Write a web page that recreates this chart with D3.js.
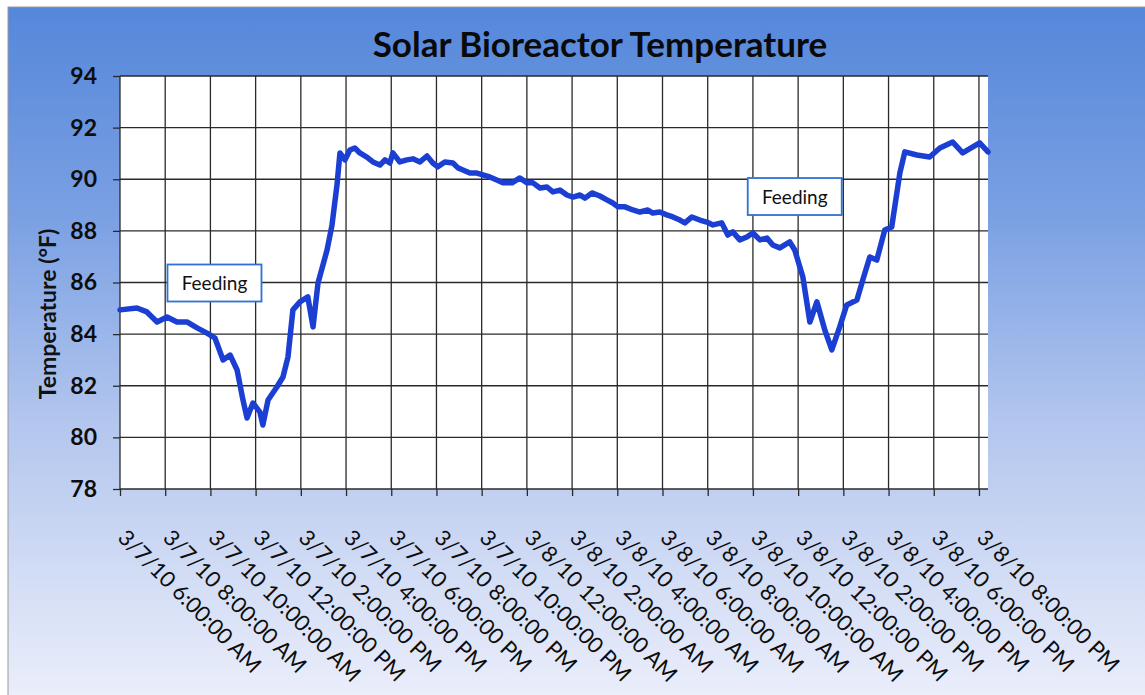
<!DOCTYPE html>
<html lang="en">
<head>
    <meta charset="UTF-8">
    <title>Solar Bioreactor Temperature</title>
    <script src="https://d3js.org/d3.v7.min.js"></script>
    <style>
        body { margin: 0; background: #fff; font-family: Lato, "Open Sans", sans-serif; }
        svg { display: block; }
        .grid line { stroke: #2a2a2a; stroke-width: 1.3; }
        .axis line { stroke: #2a2a2a; stroke-width: 1.3; }
        .axis text { fill: #0d0d0d; }
    </style>
</head>
<body>
    <svg width="1145" height="695"></svg>

    <script>
        const width = 1145, height = 695;
        const margin = { top: 76, right: 157, bottom: 206, left: 120 };

        // time axis: hours after 3/7/10 6:00 AM
        const start = new Date(2010, 2, 7, 6, 0, 0);
        const endHours = 38.4;

        const hours = [
            0.00, 0.75, 1.19, 1.64, 2.08, 2.52, 2.96, 3.41, 3.85, 4.20,
            4.56, 4.87, 5.18, 5.44, 5.62, 5.88, 6.19, 6.32, 6.55, 6.94,
            7.21, 7.43, 7.65, 7.96, 8.31, 8.54, 8.76, 9.16, 9.38, 9.60,
            9.73, 9.95, 10.17, 10.39, 10.61, 10.92, 11.19, 11.50, 11.72, 11.94,
            12.07, 12.38, 12.69, 12.96, 13.27, 13.58, 13.84, 14.06, 14.37, 14.73,
            14.95, 15.17, 15.48, 15.79, 16.05, 16.36, 16.67, 16.94, 17.34, 17.69,
            18.00, 18.27, 18.58, 18.89, 19.15, 19.46, 19.77, 20.04, 20.35, 20.57,
            20.88, 21.23, 21.54, 21.80, 22.03, 22.34, 22.69, 23.00, 23.35, 23.57,
            23.88, 24.19, 24.46, 24.77, 24.99, 25.30, 25.65, 25.96, 26.23, 26.62,
            26.89, 27.11, 27.42, 27.73, 28.00, 28.31, 28.62, 28.88, 29.19, 29.63,
            29.85, 30.21, 30.52, 30.83, 31.18, 31.49, 31.84, 32.15, 32.60, 32.86,
            33.17, 33.48, 33.83, 34.14, 34.50, 34.72, 35.25, 35.82, 36.27, 36.84,
            37.28, 38.03, 38.40
        ];
        const temps = [
            84.94, 85.01, 84.86, 84.47, 84.66, 84.47, 84.47, 84.24, 84.04, 83.85,
            83.00, 83.19, 82.61, 81.45, 80.75, 81.33, 80.98, 80.48, 81.45, 81.95,
            82.34, 83.11, 84.94, 85.25, 85.44, 84.28, 85.98, 87.26, 88.23, 89.78,
            91.02, 90.75, 91.13, 91.21, 91.02, 90.86, 90.67, 90.55, 90.75, 90.63,
            91.02, 90.67, 90.75, 90.79, 90.67, 90.90, 90.63, 90.48, 90.67, 90.63,
            90.44, 90.36, 90.24, 90.24, 90.17, 90.09, 89.97, 89.86, 89.86, 90.05,
            89.86, 89.86, 89.66, 89.70, 89.51, 89.58, 89.39, 89.31, 89.39, 89.27,
            89.47, 89.35, 89.20, 89.08, 88.93, 88.93, 88.81, 88.73, 88.81, 88.69,
            88.73, 88.62, 88.54, 88.42, 88.31, 88.54, 88.42, 88.34, 88.23, 88.31,
            87.84, 87.96, 87.65, 87.76, 87.92, 87.65, 87.72, 87.45, 87.34, 87.57,
            87.26, 86.21, 84.47, 85.25, 84.16, 83.39, 84.28, 85.13, 85.32, 86.10,
            86.99, 86.87, 88.03, 88.15, 90.24, 91.06, 90.94, 90.86, 91.21, 91.44,
            91.02, 91.41, 91.06
        ];

        const yTicks = [78, 80, 82, 84, 86, 88, 90, 92, 94];
        const xTickLabels = [
            "3/7/10 6:00:00 AM", "3/7/10 8:00:00 AM", "3/7/10 10:00:00 AM", "3/7/10 12:00:00 PM",
            "3/7/10 2:00:00 PM", "3/7/10 4:00:00 PM", "3/7/10 6:00:00 PM", "3/7/10 8:00:00 PM",
            "3/7/10 10:00:00 PM", "3/8/10 12:00:00 AM", "3/8/10 2:00:00 AM", "3/8/10 4:00:00 AM",
            "3/8/10 6:00:00 AM", "3/8/10 8:00:00 AM", "3/8/10 10:00:00 AM", "3/8/10 12:00:00 PM",
            "3/8/10 2:00:00 PM", "3/8/10 4:00:00 PM", "3/8/10 6:00:00 PM", "3/8/10 8:00:00 PM"
        ];
        const noteTexts = ["Feeding", "Feeding"];
        const noteHours = [4.18, 29.85];
        const noteTemps = [86.0, 89.35];

        const toDate = h => new Date(start.getTime() + h * 3600e3);
        const data = hours.map((h, i) => ({ t: toDate(h), v: temps[i] }));
        const xTicks = xTickLabels.map((_, i) => toDate(i * 2));

        const svg = d3.select("svg");

        // background
        const defs = svg.append("defs");
        const grad = defs.append("linearGradient")
            .attr("id", "bg").attr("x1", 0).attr("y1", 0).attr("x2", 0).attr("y2", 1);
        grad.append("stop").attr("offset", "0%").attr("stop-color", "#5587da");
        grad.append("stop").attr("offset", "30%").attr("stop-color", "#7aa0e3");
        grad.append("stop").attr("offset", "60%").attr("stop-color", "#b3c6ee");
        grad.append("stop").attr("offset", "100%").attr("stop-color", "#eceffb");

        svg.append("rect")
            .attr("x", 8).attr("y", 7)
            .attr("width", width).attr("height", height)
            .attr("fill", "url(#bg)")
            .attr("stroke", "#999").attr("stroke-width", 1);

        const x = d3.scaleTime()
            .domain([start, toDate(endHours)])
            .range([margin.left, width - margin.right]);
        const y = d3.scaleLinear()
            .domain([78, 94])
            .range([height - margin.bottom, margin.top]);

        // plot area
        svg.append("rect")
            .attr("x", margin.left).attr("y", margin.top)
            .attr("width", width - margin.left - margin.right)
            .attr("height", height - margin.top - margin.bottom)
            .attr("fill", "#fff");

        // grid
        const grid = svg.append("g").attr("class", "grid");
        grid.selectAll(".h").data(yTicks).enter().append("line")
            .attr("x1", margin.left).attr("x2", width - margin.right)
            .attr("y1", d => y(d)).attr("y2", d => y(d));
        grid.selectAll(".v").data(xTicks).enter().append("line")
            .attr("x1", d => x(d)).attr("x2", d => x(d))
            .attr("y1", margin.top).attr("y2", height - margin.bottom);

        // axes
        const xAxis = svg.append("g")
            .attr("class", "axis")
            .attr("transform", `translate(0,${height - margin.bottom})`)
            .call(d3.axisBottom(x).tickValues(xTicks).tickSize(7).tickFormat((d, i) => xTickLabels[i]));
        xAxis.attr("font-family", "Lato, sans-serif");
        xAxis.selectAll("text")
            .attr("font-size", 22)
            .attr("text-anchor", "start")
            .attr("dominant-baseline", "central")
            .attr("dy", null)
            .attr("y", 0)
            .attr("transform", "translate(2,44) rotate(45)");

        const yAxis = svg.append("g")
            .attr("class", "axis")
            .attr("transform", `translate(${margin.left},0)`)
            .call(d3.axisLeft(y).tickValues(yTicks).tickSize(7).tickPadding(16));
        yAxis.attr("font-family", "Lato, sans-serif");
        yAxis.selectAll("text")
            .attr("font-size", 23)
            .attr("font-weight", "bold");
        svg.selectAll(".axis .domain").remove();

        // line
        const line = d3.line()
            .x(d => x(d.t))
            .y(d => y(d.v));
        svg.append("path")
            .datum(data)
            .attr("fill", "none")
            .attr("stroke", "#1b3fd2")
            .attr("stroke-width", 5.5)
            .attr("stroke-linejoin", "round")
            .attr("stroke-linecap", "round")
            .attr("d", line);

        // notes
        const notes = svg.selectAll(".note")
            .data(noteTexts)
            .enter().append("g")
            .attr("class", "note")
            .attr("transform", (d, i) => `translate(${x(toDate(noteHours[i]))},${y(noteTemps[i])})`);
        notes.append("rect")
            .attr("x", -47).attr("y", -18)
            .attr("width", 94).attr("height", 37)
            .attr("fill", "#fff")
            .attr("stroke", "#2f72d4")
            .attr("stroke-width", 1.8);
        notes.append("text")
            .attr("text-anchor", "middle")
            .attr("dominant-baseline", "central")
            .attr("font-size", 19)
            .attr("fill", "#111")
            .text(d => d);

        // title
        svg.append("text")
            .attr("x", 600).attr("y", 57)
            .attr("text-anchor", "middle")
            .attr("font-size", 35)
            .attr("font-weight", "bold")
            .attr("fill", "#0a0a0a")
            .text("Solar Bioreactor Temperature");

        // y axis title
        svg.append("text")
            .attr("transform", "translate(47,314) rotate(-90)")
            .attr("text-anchor", "middle")
            .attr("dominant-baseline", "central")
            .attr("font-size", 23)
            .attr("font-weight", "bold")
            .attr("fill", "#111")
            .text("Temperature  (°F)");
    </script>
</body>
</html>
